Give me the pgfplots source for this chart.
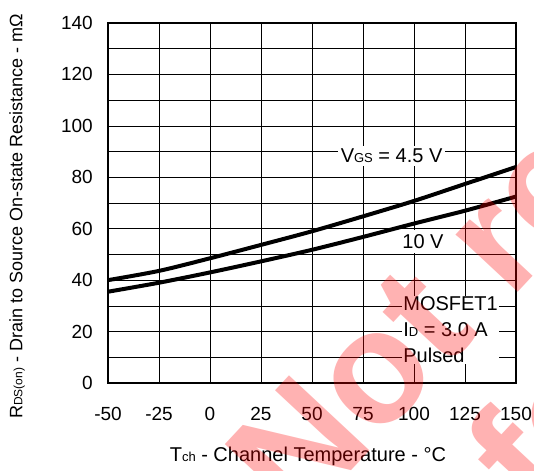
\documentclass[border=0pt]{standalone}
\usepackage{fontspec}
\setmainfont{Liberation Sans}
\usepackage{pgfplots}
\pgfplotsset{compat=1.18}
\newcommand\sub[1]{{\fontsize{13}{13}\selectfont #1}}
\newcommand\subs[1]{{\fontsize{12}{12}\selectfont #1}}
\begin{document}
\fontsize{20}{24}\selectfont
\begin{tikzpicture}
\begin{axis}[
 scale only axis, width=408pt, height=360pt,
 xmin=-50, xmax=150, ymin=0, ymax=140,
 xtick={-50,-25,...,150}, ytick={0,20,...,140}, minor ytick={10,30,...,130},
 grid=both,
 major grid style={black, line width=0.7pt},
 minor grid style={black, line width=0.7pt},
 axis line style={black, line width=2.4pt},
 major tick length=0pt, minor tick length=0pt,
 /pgf/number format/assume math mode=true,
 tick label style={font=\fontsize{19}{22}\selectfont},
 xticklabel style={anchor=north, inner sep=0pt, yshift=-24pt},
 yticklabel style={anchor=east, inner sep=0pt, xshift=-15pt},
 xlabel={T\sub{ch} - Channel Temperature - °C},
 ylabel={R\subs{DS(on)} - Drain to Source On-state Resistance - mΩ},
 xlabel style={font=\fontsize{20}{24}\selectfont, at={(axis description cs:0.49,-0.205)}, anchor=center},
 ylabel style={font=\fontsize{18}{22}\selectfont, at={(axis description cs:-0.223,0.462)}, anchor=center},
 clip=false,
]
\addplot[black, line width=4pt, smooth] coordinates {
 (-50,40.0) (-25,43.6) (0,48.5) (25,53.7) (50,59.0) (75,64.8) (100,70.8) (125,77.4) (150,84.0)};
\addplot[black, line width=4pt, smooth] coordinates {
 (-50,35.5) (-25,39.0) (0,43.0) (25,47.3) (50,51.8) (75,56.8) (100,62.0) (125,67.0) (150,72.5)};
\node[fill=white, inner sep=3pt, font=\fontsize{20}{24}\selectfont] at (axis cs:89,88.3) {V\sub{GS} = 4.5 V};
\node[fill=white, inner sep=4pt, font=\fontsize{20}{24}\selectfont] at (axis cs:104.4,55) {10 V};
\node[fill=white, anchor=west, align=left, inner sep=1pt, font=\fontsize{20}{26}\selectfont] at (axis cs:94.2,20.6) {MOSFET1\\I\sub{D} = 3.0 A\\Pulsed};
\end{axis}
\pgfresetboundingbox
\path ([xshift=-108pt,yshift=-87pt]current axis.south west) rectangle ([xshift=18pt,yshift=23pt]current axis.north east);
\begin{scope}[overlay]
\node[rotate=47, anchor=base west, inner sep=0pt, text=red, text opacity=0.3, font=\fontsize{160}{160}\selectfont\bfseries] at ([xshift=190pt,yshift=-145pt]current axis.south west) {Not recommended};
\node[rotate=47, anchor=base west, inner sep=0pt, text=red, text opacity=0.3, font=\fontsize{160}{160}\selectfont\bfseries] at ([xshift=430pt,yshift=-137pt]current axis.south west) {for new design};
\end{scope}
\end{tikzpicture}
\end{document}
